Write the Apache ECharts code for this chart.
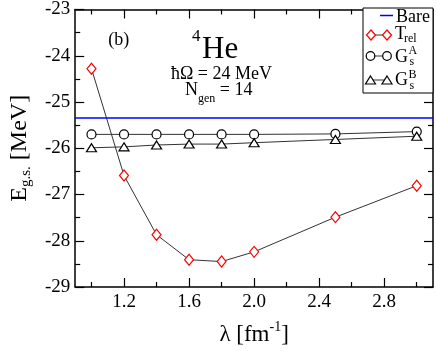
<!DOCTYPE html>
<html>
<head>
<meta charset="utf-8">
<script src="https://cdn.jsdelivr.net/npm/echarts@6/dist/echarts.min.js"></script>
<style>
html,body{margin:0;padding:0;background:#fff;}
#c{width:436px;height:351px;}
</style>
</head>
<body>
<div id="c"></div>
<script>
// ---- data ----
const lambdaVals = [1.0, 1.2, 1.4, 1.6, 1.8, 2.0, 2.5, 3.0];
const trelVals   = [-24.28, -26.59, -27.87, -28.41, -28.45, -28.24, -27.49, -26.81];
const gsAVals    = [-25.70, -25.70, -25.70, -25.70, -25.70, -25.70, -25.69, -25.64];
const gsBVals    = [-25.99, -25.97, -25.93, -25.91, -25.91, -25.88, -25.81, -25.74];
const bareValue  = -25.34;
const xMajorTicks = [1.2, 1.6, 2.0, 2.4, 2.8];
const xMinorTicks = [1.0, 1.4, 1.8, 2.2, 2.6, 3.0];
const xRange = [0.9, 3.1];
const yRange = [-29, -23];

const FONT = 'Liberation Serif';
const pair = (xs, ys) => xs.map((x, i) => [x, ys[i]]);

const chart = echarts.init(document.getElementById('c'), null, {renderer: 'canvas'});

function xAx(pos, ticks, len, showLine, showLabel, extra) {
  return Object.assign({
    type: 'value', position: pos, min: xRange[0], max: xRange[1],
    axisLine: {show: showLine, onZero: false, lineStyle: {color: '#000', width: 1.5}},
    axisTick: {show: true, inside: true, length: len, customValues: ticks, lineStyle: {color: '#000', width: 1.2}},
    axisLabel: {show: showLabel, customValues: ticks, formatter: v => v.toFixed(1),
      fontFamily: FONT, fontSize: 19, color: '#000', margin: 6},
    splitLine: {show: false}
  }, extra || {});
}
function yAx(pos, showLabel, extra) {
  return Object.assign({
    type: 'value', position: pos, min: yRange[0], max: yRange[1], interval: 1,
    axisLine: {show: true, onZero: false, lineStyle: {color: '#000', width: 1.5}},
    axisTick: {show: true, inside: true, length: 9, lineStyle: {color: '#000', width: 1.2}},
    minorTick: {show: true, splitNumber: 2, length: 5, lineStyle: {color: '#000', width: 1.2}},
    axisLabel: {show: showLabel, fontFamily: FONT, fontSize: 19, color: '#000', margin: 5},
    splitLine: {show: false}, minorSplitLine: {show: false}
  }, extra || {});
}

const lineStyle = {color: '#333', width: 1};

const option = {
  animation: false,
  backgroundColor: '#fff',
  grid: {left: 57, right: 3, top: 8, bottom: 47, containLabel: false},
  xAxis: [
    xAx('bottom', xMajorTicks, 9, true, true, {
      name: '{m|λ [fm}{sup|-1}{m|]}', nameLocation: 'middle', nameGap: 33,
      nameTextStyle: {rich: {
        m: {fontFamily: FONT, fontSize: 23, color: '#000', lineHeight: 26, verticalAlign: 'bottom'},
        sup: {fontFamily: FONT, fontSize: 14, color: '#000', lineHeight: 16, verticalAlign: 'top'}
      }}
    }),
    xAx('bottom', xMinorTicks, 5, false, false),
    xAx('top', xMajorTicks, 9, true, false),
    xAx('top', xMinorTicks, 5, false, false)
  ],
  yAxis: [
    yAx('left', true, {
      name: '{m|E}{s|g.s.}{m| [MeV]}', nameLocation: 'middle', nameGap: 41, nameRotate: 90,
      nameTextStyle: {rich: {
        m: {fontFamily: FONT, fontSize: 24, color: '#000', lineHeight: 26, verticalAlign: 'top'},
        s: {fontFamily: FONT, fontSize: 15, color: '#000', lineHeight: 15, verticalAlign: 'bottom'}
      }}
    }),
    yAx('right', false)
  ],
  series: [
    {
      name: 'Bare', type: 'line', data: [], xAxisIndex: 0, yAxisIndex: 0,
      markLine: {silent: true, symbol: 'none', animation: false, label: {show: false},
        lineStyle: {color: '#0000ff', width: 1.5, type: 'solid'},
        data: [{yAxis: bareValue}]}
    },
    {
      name: 'Trel', type: 'line', data: pair(lambdaVals, trelVals),
      symbol: 'diamond', symbolSize: [9, 11], lineStyle: lineStyle,
      itemStyle: {color: '#fff', borderColor: '#ff0000', borderWidth: 1.2}, z: 3
    },
    {
      name: 'GsA', type: 'line', data: pair(lambdaVals, gsAVals),
      symbol: 'circle', symbolSize: 9, lineStyle: lineStyle,
      itemStyle: {color: '#fff', borderColor: '#000', borderWidth: 1.2}, z: 3
    },
    {
      name: 'GsB', type: 'line', data: pair(lambdaVals, gsBVals),
      symbol: 'triangle', symbolSize: [10, 8], lineStyle: lineStyle,
      itemStyle: {color: '#fff', borderColor: '#000', borderWidth: 1.2}, z: 3
    }
  ],
  graphic: [
    // annotations
    {type: 'text', x: 118.7, y: 40, z: 50, style: {text: '(b)', font: '18px ' + FONT, fill: '#000', align: 'center', verticalAlign: 'middle', textAlign: 'center', textVerticalAlign: 'middle'}},
    {type: 'text', x: 192, y: 37, z: 50, style: {text: '4', font: '17px ' + FONT, fill: '#000', align: 'left', verticalAlign: 'middle', textAlign: 'left', textVerticalAlign: 'middle'}},
    {type: 'text', x: 202, y: 49.5, z: 50, style: {text: 'He', font: '31px ' + FONT, fill: '#000', align: 'left', verticalAlign: 'middle', textAlign: 'left', textVerticalAlign: 'middle'}},
    {type: 'text', x: 221.5, y: 74.5, z: 50, style: {text: 'ħΩ = 24 MeV', font: '18px ' + FONT, fill: '#000', align: 'center', verticalAlign: 'middle', textAlign: 'center', textVerticalAlign: 'middle'}},
    {type: 'text', x: 185, y: 93, z: 50, style: {text: '{m|N}{s|gen}{m| = 14}', align: 'left', verticalAlign: 'middle', textAlign: 'left', textVerticalAlign: 'middle',
      rich: {m: {fontFamily: FONT, fontSize: 18, fill: '#000', color: '#000', lineHeight: 24, verticalAlign: 'top'},
             s: {fontFamily: FONT, fontSize: 12, fill: '#000', color: '#000', lineHeight: 13, verticalAlign: 'bottom'}}}},
    // legend box
    {type: 'rect', z: 60, shape: {x: 363, y: 8, width: 70, height: 85}, style: {fill: '#fff', stroke: '#000', lineWidth: 1}},
    {type: 'line', z: 61, shape: {x1: 380, y1: 15.5, x2: 393, y2: 15.5}, style: {stroke: '#0000ff', lineWidth: 1.5}},
    {type: 'line', z: 61, shape: {x1: 371, y1: 35, x2: 387, y2: 35}, style: {stroke: '#333', lineWidth: 1}},
    {type: 'polygon', z: 62, shape: {points: [[371, 30], [375.5, 35], [371, 40], [366.5, 35]]}, style: {fill: '#fff', stroke: '#ff0000', lineWidth: 1.2}},
    {type: 'polygon', z: 62, shape: {points: [[387, 30], [391.5, 35], [387, 40], [382.5, 35]]}, style: {fill: '#fff', stroke: '#ff0000', lineWidth: 1.2}},
    {type: 'line', z: 61, shape: {x1: 370.5, y1: 56, x2: 387, y2: 56}, style: {stroke: '#333', lineWidth: 1}},
    {type: 'circle', z: 62, shape: {cx: 370.5, cy: 56, r: 4.3}, style: {fill: '#fff', stroke: '#000', lineWidth: 1.2}},
    {type: 'circle', z: 62, shape: {cx: 387, cy: 56, r: 4.3}, style: {fill: '#fff', stroke: '#000', lineWidth: 1.2}},
    {type: 'line', z: 61, shape: {x1: 370.5, y1: 80, x2: 387, y2: 80}, style: {stroke: '#333', lineWidth: 1}},
    {type: 'polygon', z: 62, shape: {points: [[370.5, 76], [375.5, 84], [365.5, 84]]}, style: {fill: '#fff', stroke: '#000', lineWidth: 1.2}},
    {type: 'polygon', z: 62, shape: {points: [[387, 76], [392, 84], [382, 84]]}, style: {fill: '#fff', stroke: '#000', lineWidth: 1.2}},
    // legend texts
    {type: 'text', z: 63, x: 396, y: 17.5, style: {text: 'Bare', font: '18px ' + FONT, fill: '#000', align: 'left', verticalAlign: 'middle', textAlign: 'left', textVerticalAlign: 'middle'}},
    {type: 'text', z: 63, x: 395, y: 34.5, style: {text: 'T', font: '18px ' + FONT, fill: '#000', align: 'left', verticalAlign: 'middle', textAlign: 'left', textVerticalAlign: 'middle'}},
    {type: 'text', z: 63, x: 404, y: 39, style: {text: 'rel', font: '12px ' + FONT, fill: '#000', align: 'left', verticalAlign: 'middle', textAlign: 'left', textVerticalAlign: 'middle'}},
    {type: 'text', z: 63, x: 395, y: 57, style: {text: 'G', font: '18px ' + FONT, fill: '#000', align: 'left', verticalAlign: 'middle', textAlign: 'left', textVerticalAlign: 'middle'}},
    {type: 'text', z: 63, x: 408.5, y: 50.5, style: {text: 'A', font: '12px ' + FONT, fill: '#000', align: 'left', verticalAlign: 'middle', textAlign: 'left', textVerticalAlign: 'middle'}},
    {type: 'text', z: 63, x: 409.5, y: 61.5, style: {text: 's', font: '12px ' + FONT, fill: '#000', align: 'left', verticalAlign: 'middle', textAlign: 'left', textVerticalAlign: 'middle'}},
    {type: 'text', z: 63, x: 395, y: 80.5, style: {text: 'G', font: '18px ' + FONT, fill: '#000', align: 'left', verticalAlign: 'middle', textAlign: 'left', textVerticalAlign: 'middle'}},
    {type: 'text', z: 63, x: 408.5, y: 74.5, style: {text: 'B', font: '12px ' + FONT, fill: '#000', align: 'left', verticalAlign: 'middle', textAlign: 'left', textVerticalAlign: 'middle'}},
    {type: 'text', z: 63, x: 409.5, y: 85.5, style: {text: 's', font: '12px ' + FONT, fill: '#000', align: 'left', verticalAlign: 'middle', textAlign: 'left', textVerticalAlign: 'middle'}}
  ]
};
chart.setOption(option);
</script>
</body>
</html>
